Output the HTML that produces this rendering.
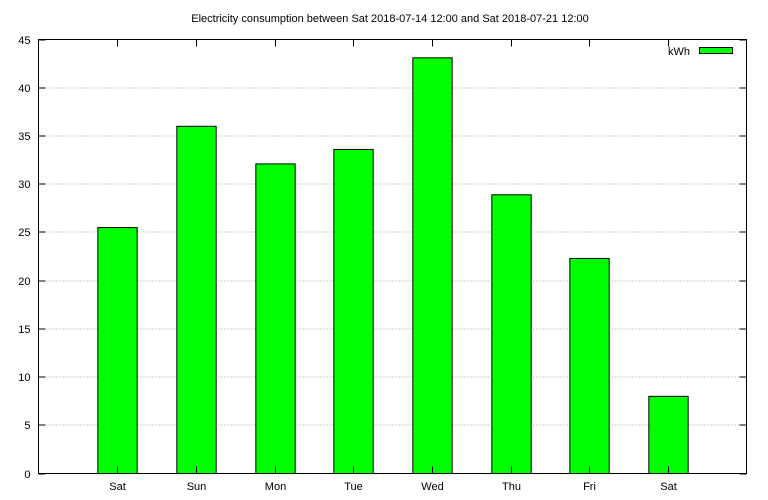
<!DOCTYPE html>
<html><head><meta charset="utf-8"><style>body{margin:0;background:#fff}svg{display:block}text{font-family:"Liberation Sans",sans-serif;font-size:11px;fill:#000}</style></head>
<body>
<svg id="chart" width="768" height="500" xmlns="http://www.w3.org/2000/svg">
<rect width="768" height="500" fill="#fff"/>
<text x="390" y="22" text-anchor="middle">Electricity consumption between Sat 2018-07-14 12:00 and Sat 2018-07-21 12:00</text>
<g id="grid"></g><g id="bars"></g><g id="axes"></g>
<rect x="38.5" y="39.5" width="708" height="434" fill="none" stroke="#000" stroke-width="1"/>
<g>
<text x="690" y="55" text-anchor="end">kWh</text>
<rect x="699.5" y="47.5" width="33" height="6" fill="#00ff00" stroke="#000"/>
</g>
</svg>
<script>
const categories = ["Sat","Sun","Mon","Tue","Wed","Thu","Fri","Sat"];
const values = [25.5, 36.0, 32.1, 33.6, 43.1, 28.9, 22.3, 8.0];
const yTicks = [0,5,10,15,20,25,30,35,40,45];
const NS="http://www.w3.org/2000/svg";
const L=38.5,R=746.5,T=39.5,B=473.5;
const x=i=>L+(i+1)*(R-L)/9;
const y=v=>B-v*(B-T)/45;
function mk(tag,attrs,parent){const e=document.createElementNS(NS,tag);for(const k in attrs)e.setAttribute(k,attrs[k]);document.getElementById(parent).appendChild(e);return e;}
yTicks.forEach(t=>{
  const yy=Math.round(y(t))+0.5-0.5;
  if(t>0&&t<45){const g=mk('line',{x1:L,x2:R,y1:yy,y2:yy,stroke:'#a0a0a0','stroke-dasharray':'1,2'},'grid');
  
  }
  const a=mk('line',{x1:L,x2:L+7,y1:yy,y2:yy,stroke:'#000'},'axes');
  
  
  const b=mk('line',{x1:R-7,x2:R,y1:yy,y2:yy,stroke:'#000'},'axes');
  
  
  const tx=mk('text',{x:L-8,y:yy+4,'text-anchor':'end'},'axes');tx.textContent=t;
  
  
});
const bw=(R-L)/9*0.5;
categories.forEach((c,i)=>{
  const cx=Math.round(x(i))+0.5;
  const r=mk('rect',{x:cx-bw/2,y:y(values[i]),width:bw,height:B-y(values[i]),fill:'#00ff00',stroke:'#000'},'bars');
  
  
  const t1=mk('line',{x1:cx,x2:cx,y1:B,y2:B-7,stroke:'#000'},'axes');
  
  
  const t2=mk('line',{x1:cx,x2:cx,y1:T,y2:T+7,stroke:'#000'},'axes');
  
  
  const tx=mk('text',{x:cx,y:490,'text-anchor':'middle'},'axes');tx.textContent=c;
  
  
});
</script>
</body></html>
